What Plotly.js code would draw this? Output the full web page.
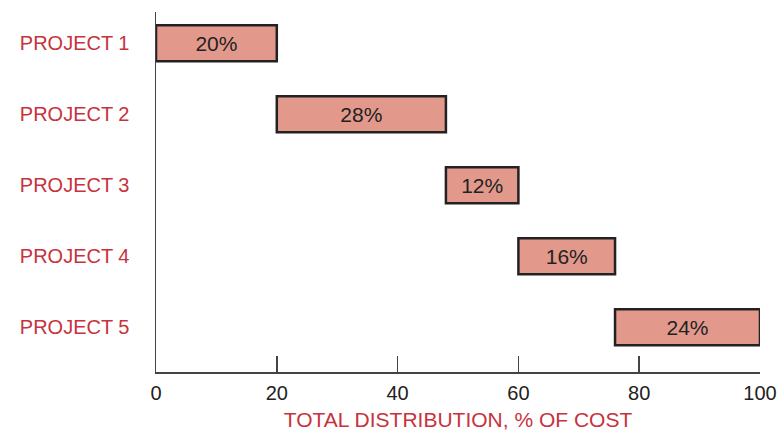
<!DOCTYPE html>
<html><head><meta charset="utf-8">
<script src="https://cdn.plot.ly/plotly-3.0.1.min.js"></script>
<style>html,body{margin:0;padding:0;background:#fff;}#chart{width:779px;height:431px;}</style>
</head><body><div id="chart"></div>
<script>
const projects = ["PROJECT 1", "PROJECT 2", "PROJECT 3", "PROJECT 4", "PROJECT 5"];
const shares = [20, 28, 12, 16, 24];
const barLabels = ["20%", "28%", "12%", "16%", "24%"];
const xTicks = [0, 20, 40, 60, 80, 100];

const starts = [];
let acc = 0;
for (const s of shares) { starts.push(acc); acc += s; }

const red = "#c8323c";
const font = "Liberation Sans, Arial, sans-serif";

Plotly.newPlot("chart", [{
  type: "bar",
  orientation: "h",
  y: projects,
  x: shares,
  base: starts,
  width: 0.51,
  marker: {color: "#e2998c", line: {color: "#222", width: 2.5}},
  text: barLabels,
  textposition: "inside",
  insidetextanchor: "middle",
  textfont: {family: font, size: 21, color: "#222"},
  hoverinfo: "none"
}], {
  width: 779, height: 431,
  margin: {l: 156, r: 19, t: 12, b: 59, pad: 0},
  paper_bgcolor: "#fff", plot_bgcolor: "#fff",
  showlegend: false,
  xaxis: {
    range: [0, 100], tickvals: xTicks, ticktext: xTicks.map(String),
    showgrid: false, zeroline: false,
    showline: true, linecolor: "#444", linewidth: 1.5,
    ticks: "inside", ticklen: 16, tickcolor: "#444", tickwidth: 1.5,
    tickfont: {family: font, size: 20, color: "#222"},
    ticklabelstandoff: 2,
    title: {text: "TOTAL DISTRIBUTION, % OF COST", font: {family: font, size: 21, color: red}, standoff: 12}
  },
  yaxis: {
    type: "category",
    range: [4.63, -0.44],
    showgrid: false, zeroline: false,
    showline: true, linecolor: "#444", linewidth: 1.5,
    ticks: "",
    tickfont: {family: font, size: 20, color: red},
    ticklabelstandoff: 21
  }
}, {staticPlot: true});
</script></body></html>
